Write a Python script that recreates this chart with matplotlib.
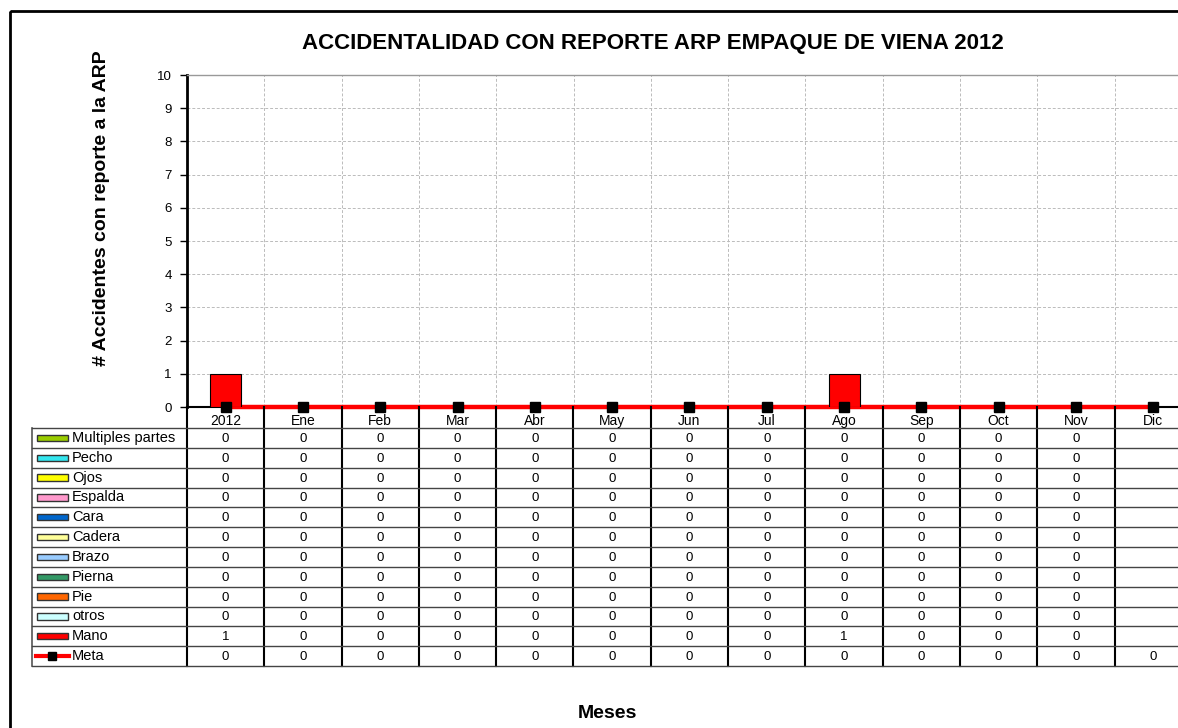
import matplotlib
matplotlib.use("Agg")

import matplotlib.pyplot as plt
from matplotlib.patches import Rectangle
from matplotlib.lines import Line2D
import numpy as np

# ---- data ---------------------------------------------------------------
categorias = ["2012", "Ene", "Feb", "Mar", "Abr", "May", "Jun", "Jul",
              "Ago", "Sep", "Oct", "Nov", "Dic"]

# series in table order (top to bottom); Dic has no value (None)
multiples_partes = [0, 0, 0, 0, 0, 0, 0, 0, 0, 0, 0, 0, None]
pecho = [0, 0, 0, 0, 0, 0, 0, 0, 0, 0, 0, 0, None]
ojos = [0, 0, 0, 0, 0, 0, 0, 0, 0, 0, 0, 0, None]
espalda = [0, 0, 0, 0, 0, 0, 0, 0, 0, 0, 0, 0, None]
cara = [0, 0, 0, 0, 0, 0, 0, 0, 0, 0, 0, 0, None]
cadera = [0, 0, 0, 0, 0, 0, 0, 0, 0, 0, 0, 0, None]
brazo = [0, 0, 0, 0, 0, 0, 0, 0, 0, 0, 0, 0, None]
pierna = [0, 0, 0, 0, 0, 0, 0, 0, 0, 0, 0, 0, None]
pie = [0, 0, 0, 0, 0, 0, 0, 0, 0, 0, 0, 0, None]
otros = [0, 0, 0, 0, 0, 0, 0, 0, 0, 0, 0, 0, None]
mano = [1, 0, 0, 0, 0, 0, 0, 0, 1, 0, 0, 0, None]
meta = [0, 0, 0, 0, 0, 0, 0, 0, 0, 0, 0, 0, 0]

series_nombres = ["Multiples partes", "Pecho", "Ojos", "Espalda", "Cara", "Cadera",
                  "Brazo", "Pierna", "Pie", "otros", "Mano"]
series_valores = [multiples_partes, pecho, ojos, espalda, cara, cadera,
                  brazo, pierna, pie, otros, mano]
series_colores = ["#99CC00", "#33E6EE", "#FFFF00", "#FF99CC", "#0066CC", "#FFFF99",
                  "#99CCFF", "#339966", "#FF6600", "#CCFFFF", "#FF0000"]

FONT = ["Liberation Sans", "DejaVu Sans"]
plt.rcParams["font.family"] = FONT

W, H = 1178, 728
fig = plt.figure(figsize=(W / 100, H / 100), dpi=100)


def frac(left, top, right, bottom):
    return [left / W, 1 - bottom / H, (right - left) / W, (bottom - top) / H]


# -- background / border ---------------------------------------------------
bg = fig.add_axes([0, 0, 1, 1])
bg.set_xlim(0, W)
bg.set_ylim(H, 0)
bg.axis("off")
bg.add_patch(Rectangle((10, 11), 1400, 900, fill=False, edgecolor="black", linewidth=2))

bg.text(653, 44, "ACCIDENTALIDAD CON REPORTE ARP EMPAQUE DE VIENA 2012",
        ha="center", va="center", fontsize=16, fontweight="bold")
bg.text(607, 714, "Meses", ha="center", va="center", fontsize=14, fontweight="bold")
bg.text(102, 208, "# Accidentes con reporte a la ARP", ha="center", va="center",
        rotation=90, fontsize=14, fontweight="bold")

# -- chart -----------------------------------------------------------------
col_w = 77.3
plot_right = 187 + col_w * len(categorias)
ax = fig.add_axes(frac(187, 75, plot_right, 407))
x = np.arange(len(categorias))

bottom = np.zeros(len(categorias))
for nombre, vals, color in zip(series_nombres, series_valores, series_colores):
    v = np.array([np.nan if (a is None or a == 0) else a for a in vals], dtype=float)
    ax.bar(x, v, width=0.4, bottom=bottom, color=color, edgecolor="black",
           linewidth=0.8, zorder=4)
    bottom = bottom + np.nan_to_num(v)

ax.plot(x, meta, color="#FF0000", linewidth=3.2, zorder=3, clip_on=False)
ax.plot(x, meta, linestyle="none", marker="s", markersize=6.5, color="black",
        zorder=5, clip_on=False)

ax.set_xlim(-0.5, len(categorias) - 0.5)
ax.set_ylim(0, 10)
ax.set_yticks(range(0, 11))
ax.tick_params(axis="y", length=5, width=1, pad=6, labelsize=9.5, direction="out")
ax.set_xticks([])
ax.set_xticks(np.arange(len(categorias) + 1) - 0.5, minor=True)
ax.tick_params(axis="x", which="minor", length=0)
ax.grid(True, axis="y", which="major", color="#BBBBBB", linestyle=(0, (3, 2)), linewidth=0.7)
ax.grid(True, axis="x", which="minor", color="#BBBBBB", linestyle=(0, (3, 2)), linewidth=0.7)
ax.set_axisbelow(True)
ax.spines["left"].set_linewidth(2)
ax.spines["bottom"].set_linewidth(1.5)
ax.spines["top"].set_color("#999999")
ax.spines["top"].set_linewidth(1)
ax.spines["right"].set_visible(False)

# -- data table ------------------------------------------------------------
leg_left = 32
tab = fig.add_axes(frac(leg_left, 407, plot_right, 666))
x0 = -0.5 - (187 - leg_left) / col_w
tab.set_xlim(x0, len(categorias) - 0.5)
head_h = 21
row_h = 19.8
n_rows = len(series_nombres) + 1
tab.set_ylim(head_h + n_rows * row_h, 0)
tab.axis("off")

for i, cat in enumerate(categorias):
    tab.text(i, head_h / 2 + 3, cat, ha="center", va="center", fontsize=10)

for i in range(len(categorias) + 1):
    tab.plot([i - 0.5, i - 0.5], [0, head_h + n_rows * row_h], color="black",
             linewidth=1.5, clip_on=False)
tab.plot([x0, x0], [head_h, head_h + n_rows * row_h], color="#555555",
         linewidth=1.2, clip_on=False)
for k in range(n_rows + 1):
    y = head_h + k * row_h
    tab.plot([x0, len(categorias) - 0.5], [y, y], color="#444444",
             linewidth=1.0, clip_on=False)

px = 1 / col_w
filas = list(zip(series_nombres, series_valores, series_colores)) + [("Meta", meta, None)]
for k, (nombre, vals, color) in enumerate(filas):
    yc = head_h + (k + 0.5) * row_h
    if color is not None:
        tab.add_patch(Rectangle((x0 + 5 * px, yc - 3.2), 31 * px, 6.4,
                                facecolor=color, edgecolor="#333333", linewidth=1))
    else:
        tab.add_line(Line2D([x0 + 4 * px, x0 + 37 * px], [yc, yc],
                            color="#FF0000", linewidth=3))
        tab.add_line(Line2D([x0 + 20.5 * px], [yc], marker="s", markersize=6,
                            color="black", linestyle="none"))
    tab.text(x0 + 40 * px, yc, nombre, ha="left", va="center", fontsize=10.5)
    for i, v in enumerate(vals):
        if v is not None:
            tab.text(i, yc + 1, str(v), ha="center", va="center", fontsize=9.5)

fig.savefig("out.png", dpi=100)
plt.close(fig)
